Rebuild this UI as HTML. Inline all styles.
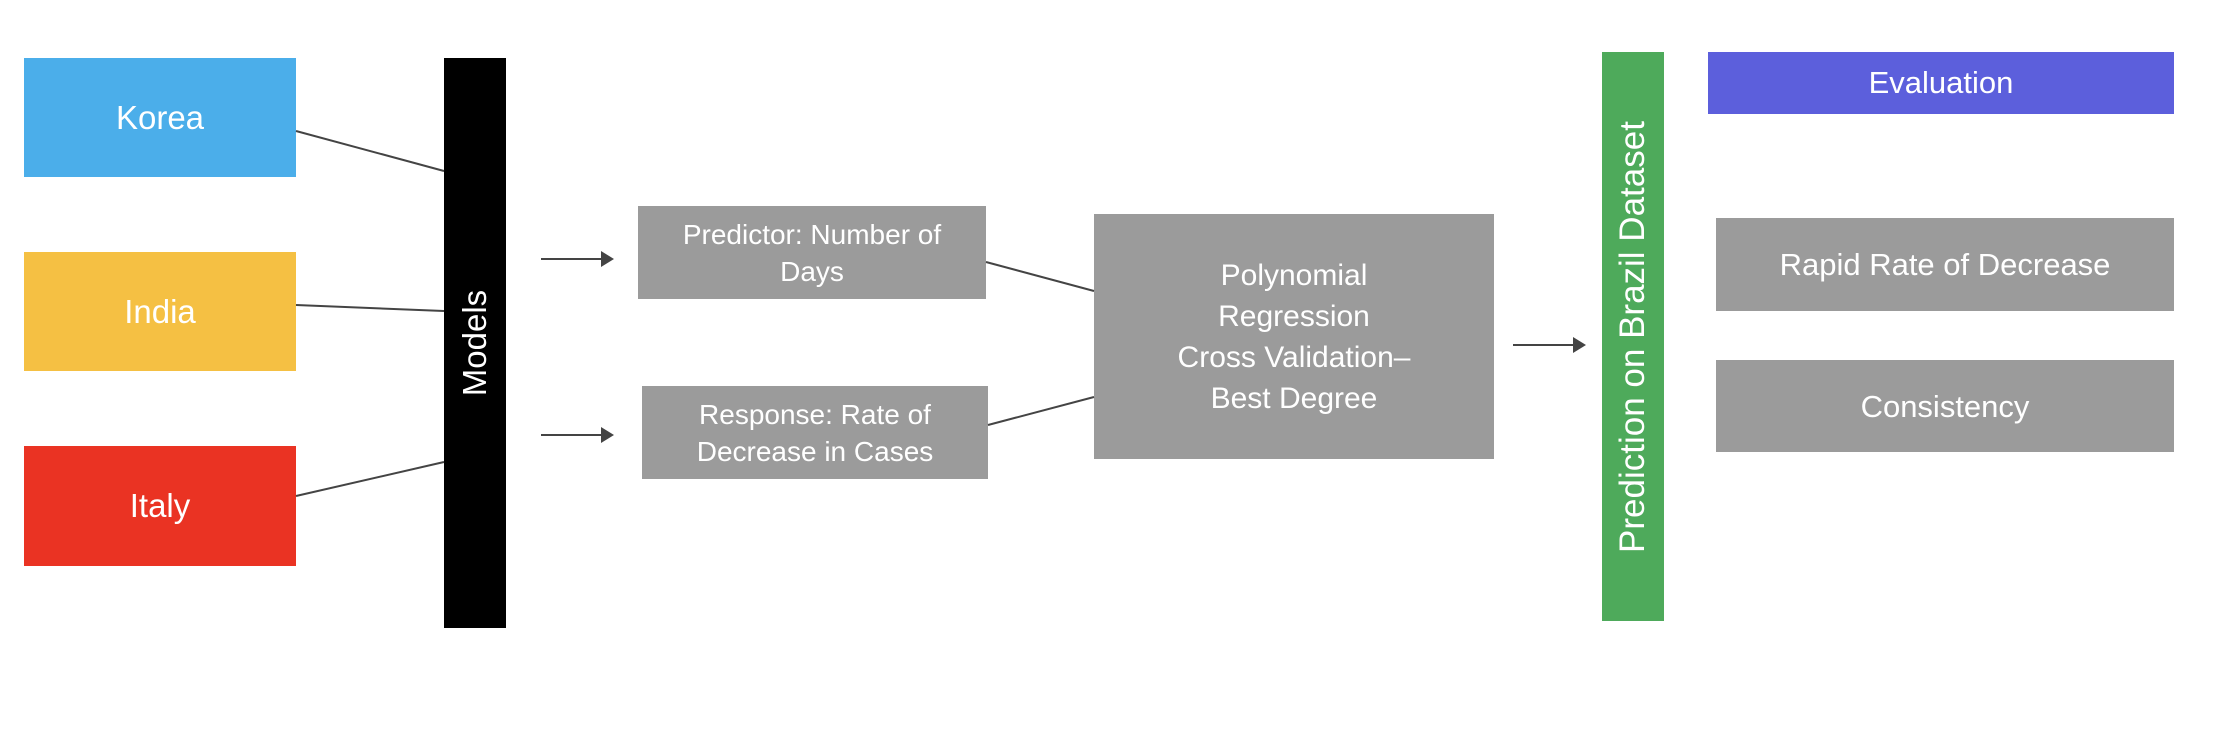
<!DOCTYPE html>
<html><head><meta charset="utf-8"><style>
body{margin:0;width:2230px;height:730px;background:#fff;position:relative;overflow:hidden;font-family:"Liberation Sans",Arial,sans-serif;}
.b{position:absolute;display:flex;align-items:center;justify-content:center;text-align:center;color:#fff;box-sizing:border-box;}
.g{background:#9b9b9b;font-size:28px;line-height:37px;}
svg{position:absolute;left:0;top:0;}
</style></head><body>
<div class="b" style="left:24px;top:58px;width:272px;height:119px;background:#4baeea;font-size:33px;">Korea</div>
<div class="b" style="left:24px;top:252px;width:272px;height:119px;background:#f5c043;font-size:33px;">India</div>
<div class="b" style="left:24px;top:446px;width:272px;height:120px;background:#ea3323;font-size:33px;">Italy</div>
<div class="b" style="left:444px;top:58px;width:62px;height:570px;background:#000;"><span style="display:inline-block;transform:rotate(-90deg);font-size:33px;white-space:nowrap;">Models</span></div>
<div class="b g" style="left:638px;top:206px;width:348px;height:93px;">Predictor: Number of<br>Days</div>
<div class="b g" style="left:642px;top:386px;width:346px;height:93px;">Response: Rate of<br>Decrease in Cases</div>
<div class="b g" style="left:1094px;top:214px;width:400px;height:245px;font-size:30px;line-height:41px;">Polynomial<br>Regression<br>Cross Validation–<br>Best Degree</div>
<div class="b" style="left:1602px;top:52px;width:62px;height:569px;background:#4eaa5b;"><span style="display:inline-block;transform:rotate(-90deg);font-size:35px;white-space:nowrap;">Prediction on Brazil Dataset</span></div>
<div class="b" style="left:1708px;top:52px;width:466px;height:62px;background:#5c5fdc;font-size:31px;">Evaluation</div>
<div class="b g" style="left:1716px;top:218px;width:458px;height:93px;font-size:31px;">Rapid Rate of Decrease</div>
<div class="b g" style="left:1716px;top:360px;width:458px;height:92px;font-size:31px;">Consistency</div>
<svg width="2230" height="730">
<g stroke="#444" stroke-width="2" fill="none">
<line x1="296" y1="131" x2="444" y2="171"/>
<line x1="296" y1="305" x2="444" y2="311"/>
<line x1="296" y1="496" x2="444" y2="462"/>
<line x1="986" y1="262" x2="1094" y2="291"/>
<line x1="988" y1="425" x2="1094" y2="397"/>
<line x1="541" y1="259" x2="602" y2="259"/>
<line x1="541" y1="435" x2="602" y2="435"/>
<line x1="1513" y1="345" x2="1574" y2="345"/>
</g>
<g fill="#444">
<polygon points="601,251 614,259 601,267"/>
<polygon points="601,427 614,435 601,443"/>
<polygon points="1573,337 1586,345 1573,353"/>
</g>
</svg>
</body></html>
